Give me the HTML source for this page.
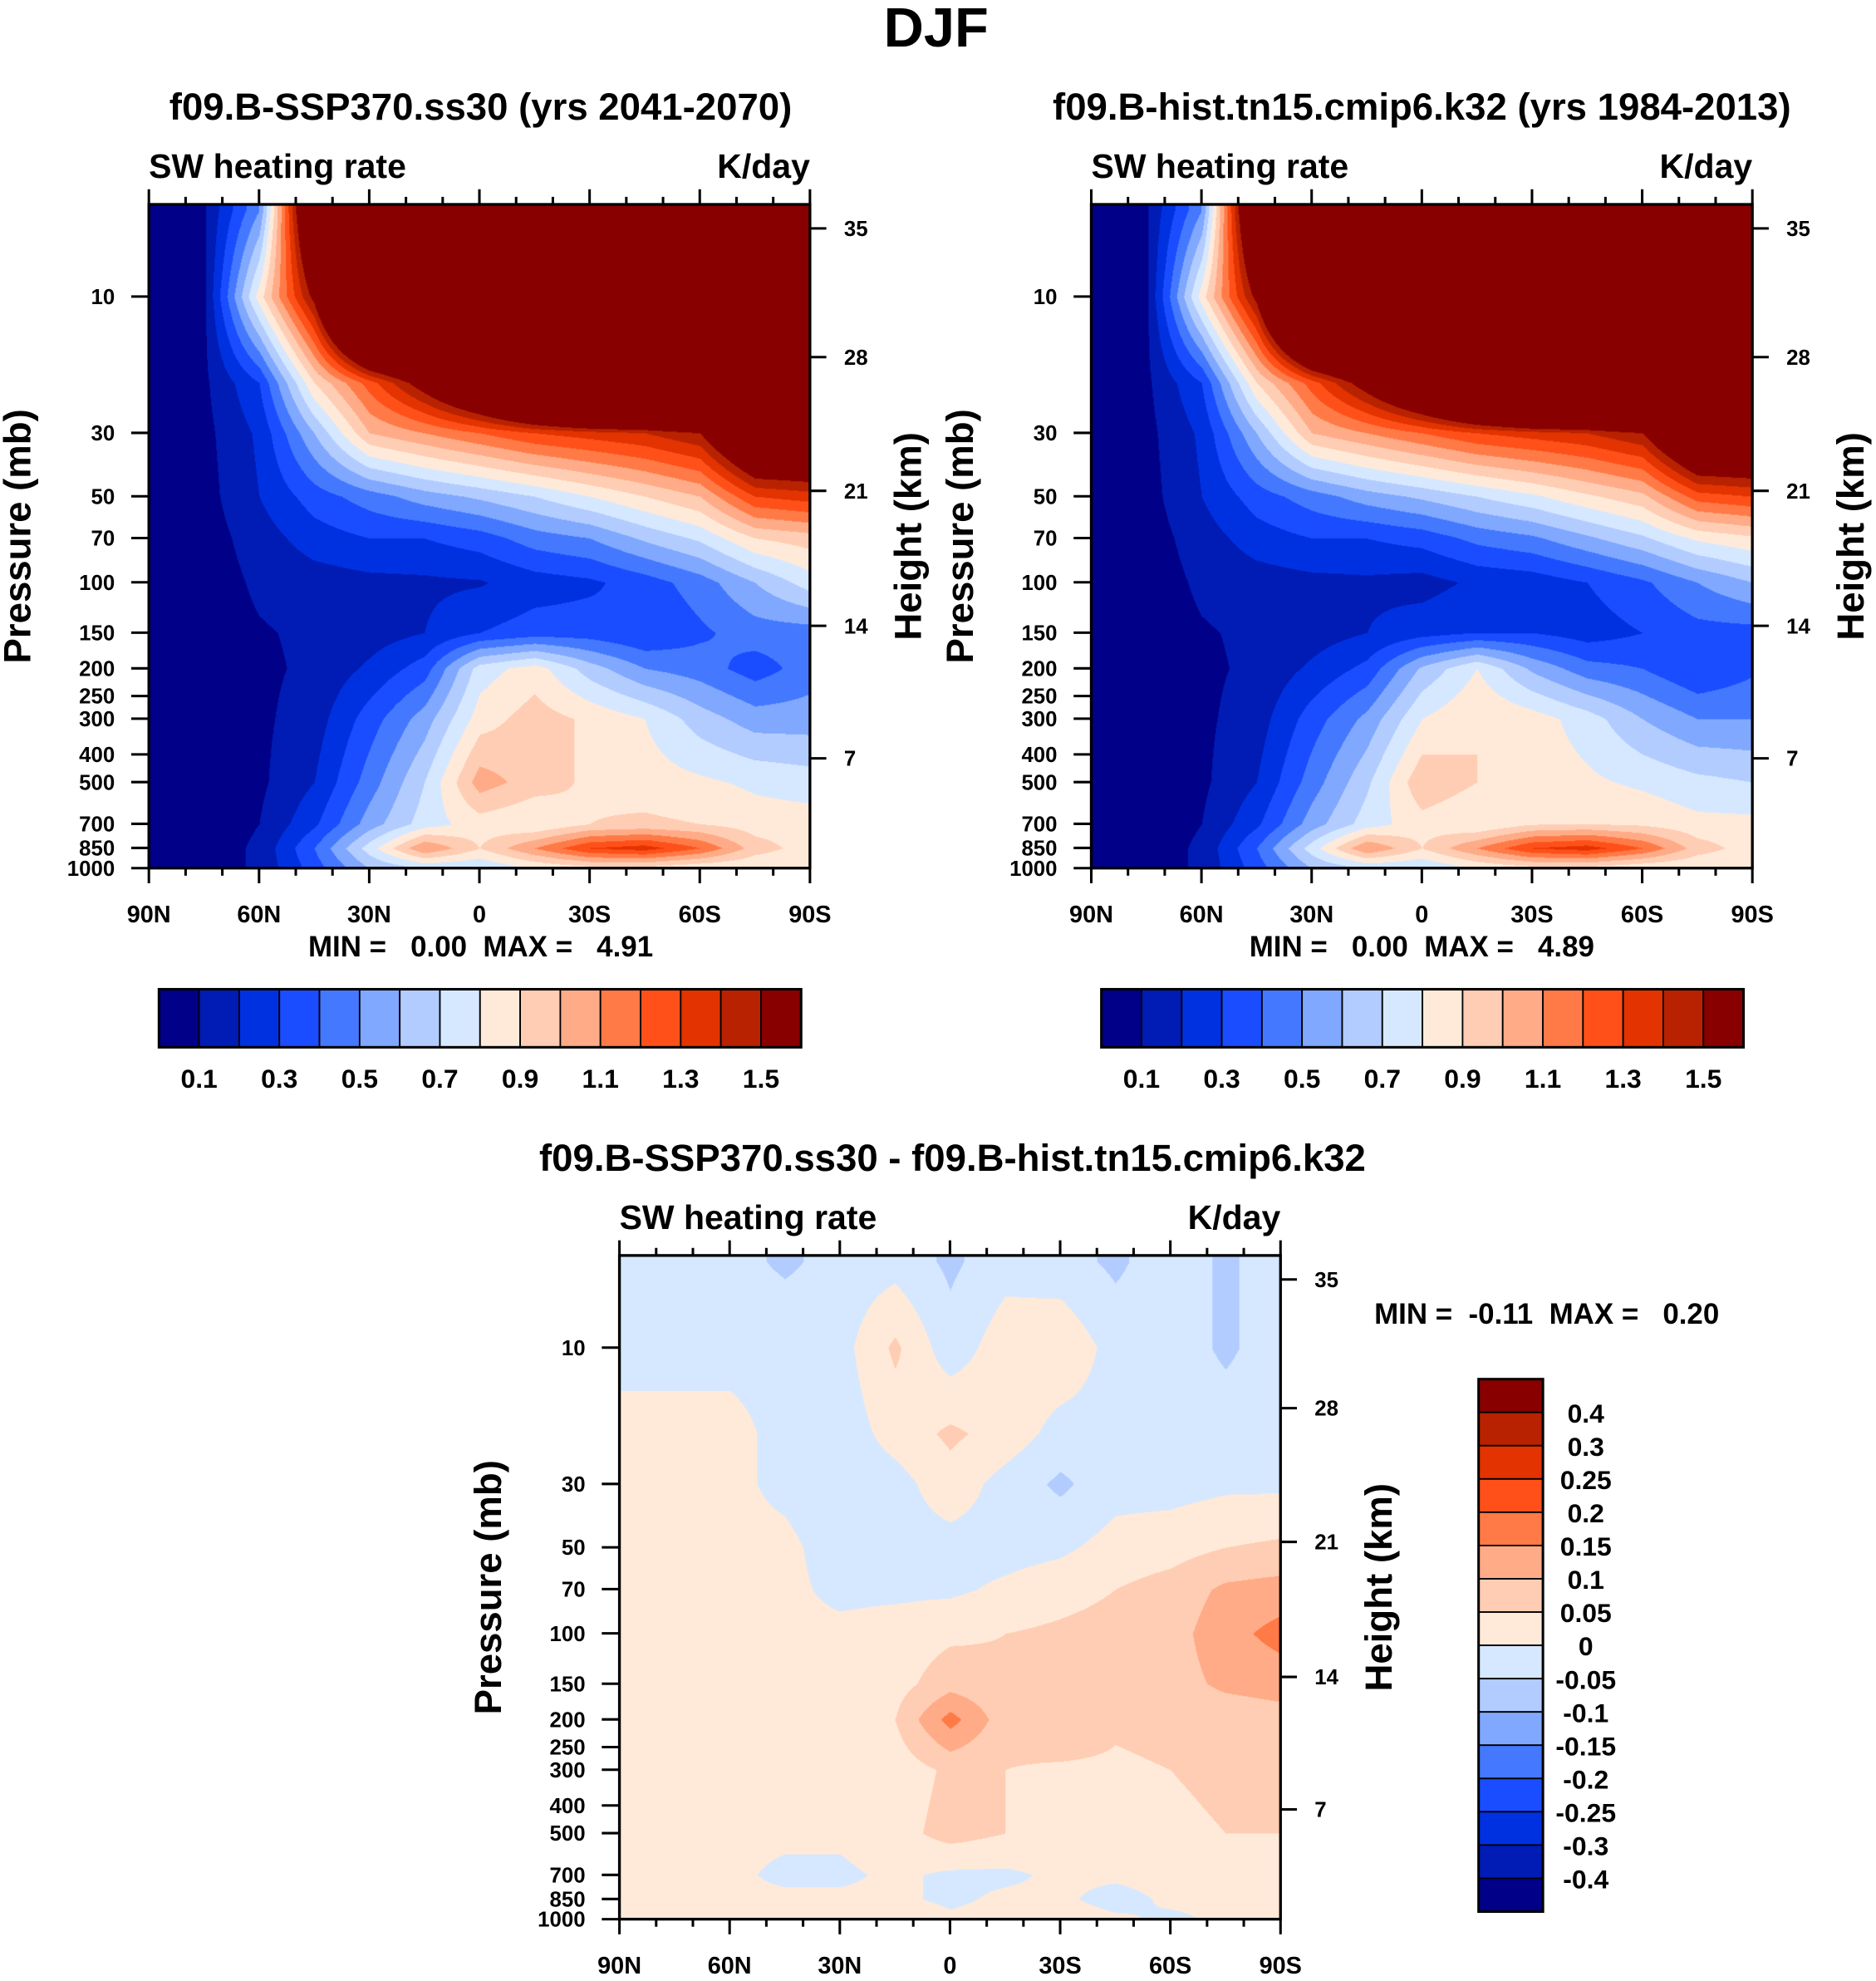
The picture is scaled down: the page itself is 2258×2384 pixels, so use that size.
<!DOCTYPE html>
<html><head><meta charset="utf-8">
<style>
html,body{margin:0;padding:0;background:#fff;width:2258px;height:2384px;overflow:hidden}
#root{position:absolute;left:0;top:0;width:1487px;height:1570px;transform:scale(1.51849,1.51847);transform-origin:0 0}
canvas{position:absolute}
svg{position:absolute;left:0;top:0}
text{font-family:"Liberation Sans",sans-serif;font-weight:bold;fill:#000;white-space:pre}
</style></head>
<body>
<div id="root">
<canvas id="c1" style="left:118px;top:162px;width:524px;height:526px" width="786" height="789"></canvas>
<canvas id="c2" style="left:865px;top:162px;width:524px;height:526px" width="786" height="789"></canvas>
<canvas id="c3" style="left:491px;top:995px;width:524px;height:526px" width="786" height="789"></canvas>
<svg id="ov" width="1487" height="1570" viewBox="0 0 1487 1570"></svg>
</div>
<script>
const colors=["#000088","#001cb4","#0031e1","#1a4dff","#4479ff","#80a8ff","#b3ccff","#d5e8ff","#ffeada","#ffcdb3","#ffab87","#ff7a46","#ff5019","#e23300","#b82200","#890000"];
const absLevels=[0.1,0.2,0.3,0.4,0.5,0.6,0.7,0.8,0.9,1.0,1.1,1.2,1.3,1.4,1.5];
const absLabels=["0.1","0.3","0.5","0.7","0.9","1.1","1.3","1.5"];
const diffLevels=[-0.4,-0.3,-0.25,-0.2,-0.15,-0.1,-0.05,0,0.05,0.1,0.15,0.2,0.25,0.3,0.4];
const diffLabels=["-0.4","-0.3","-0.25","-0.2","-0.15","-0.1","-0.05","0","0.05","0.1","0.15","0.2","0.25","0.3","0.4"];
const lats=[90,75,60,45,30,15,0,-15,-30,-45,-60,-75,-90];
const pres=[5,10,20,30,50,70,100,150,200,300,500,700,850,1000];
const latTicks=["90N","60N","30N","0","30S","60S","90S"];
const presTicks=[10,30,50,70,100,150,200,250,300,400,500,700,850,1000];
const hgtTicks=[7,14,21,28,35];
const hgtPix=[601,496,389,283,181];
const ssp=[
[0.03,0.09,0.5,2.0,3,3,3,3,3,3,3,3,3],
[0.03,0.08,0.85,1.55,3,3,3,3,3,3,3,3,3],
[0.03,0.08,0.3,0.9,1.25,1.6,2,2.5,3,3,3,3,3],
[0.03,0.07,0.22,0.6,1.0,1.1,1.2,1.3,1.35,1.4,1.5,2,2],
[0.03,0.06,0.2,0.35,0.45,0.55,0.62,0.7,0.8,0.9,1.0,1.3,1.35],
[0.03,0.05,0.15,0.25,0.3,0.3,0.35,0.45,0.5,0.62,0.72,0.9,0.95],
[0.03,0.04,0.12,0.15,0.17,0.18,0.19,0.25,0.28,0.35,0.45,0.6,0.75],
[0.03,0.04,0.09,0.12,0.15,0.2,0.3,0.35,0.35,0.3,0.38,0.45,0.45],
[0.03,0.04,0.08,0.12,0.22,0.35,0.75,0.85,0.65,0.5,0.45,0.35,0.45],
[0.03,0.04,0.08,0.15,0.35,0.55,0.85,0.95,0.88,0.8,0.65,0.55,0.55],
[0.03,0.04,0.08,0.2,0.45,0.7,1.05,0.95,0.88,0.85,0.82,0.78,0.75],
[0.03,0.04,0.1,0.28,0.55,0.75,0.85,0.8,0.9,0.92,0.9,0.85,0.85],
[0.03,0.04,0.12,0.4,0.75,1.1,0.9,1.1,1.3,1.35,1.2,0.95,0.85],
[0.03,0.04,0.12,0.35,0.6,0.7,0.7,0.8,0.85,0.85,0.8,0.8,0.8]];
const hist=[
[0.03,0.09,0.5,2.0,3,3,3,3,3,3,3,3,3],
[0.03,0.08,0.85,1.55,3,3,3,3,3,3,3,3,3],
[0.03,0.08,0.3,0.9,1.25,1.6,2,2.5,3,3,3,3,3],
[0.03,0.07,0.22,0.6,1.0,1.1,1.2,1.3,1.35,1.4,1.5,2,2],
[0.03,0.06,0.2,0.35,0.45,0.55,0.62,0.7,0.78,0.88,0.97,1.25,1.3],
[0.03,0.05,0.15,0.25,0.3,0.3,0.34,0.43,0.48,0.58,0.68,0.82,0.88],
[0.03,0.04,0.12,0.15,0.17,0.18,0.16,0.22,0.24,0.3,0.38,0.5,0.6],
[0.03,0.04,0.09,0.12,0.15,0.2,0.26,0.3,0.3,0.25,0.3,0.36,0.36],
[0.03,0.04,0.08,0.12,0.22,0.33,0.62,0.8,0.58,0.44,0.4,0.3,0.38],
[0.03,0.04,0.08,0.15,0.35,0.53,0.8,0.9,0.85,0.75,0.6,0.5,0.5],
[0.03,0.04,0.08,0.2,0.45,0.68,0.98,0.9,0.86,0.82,0.78,0.73,0.7],
[0.03,0.04,0.1,0.28,0.55,0.75,0.86,0.8,0.89,0.9,0.88,0.83,0.83],
[0.03,0.04,0.12,0.4,0.75,1.1,0.9,1.1,1.3,1.35,1.2,0.95,0.85],
[0.03,0.04,0.12,0.35,0.6,0.7,0.7,0.8,0.85,0.85,0.8,0.8,0.8]];
const diff=[
[-0.02,-0.02,-0.03,-0.06,-0.03,-0.02,-0.06,-0.02,-0.03,-0.06,-0.02,-0.06,-0.02],
[-0.01,-0.01,-0.01,-0.01,-0.02,0.06,-0.03,0.03,0.04,-0.02,-0.02,-0.06,-0.02],
[0.01,0.01,0.01,-0.01,-0.03,0.02,0.06,0.03,-0.02,-0.02,-0.02,-0.02,-0.02],
[0.01,0.01,0.01,-0.01,-0.03,-0.02,0.03,-0.02,-0.06,-0.02,-0.02,-0.01,-0.01],
[0.01,0.01,0.01,0.01,-0.02,-0.02,-0.02,-0.02,-0.01,0.02,0.03,0.05,0.06],
[0.01,0.01,0.01,0.01,-0.01,-0.01,-0.01,0.01,0.03,0.05,0.07,0.11,0.12],
[0.01,0.01,0.01,0.01,0.01,0.02,0.04,0.05,0.06,0.07,0.08,0.13,0.17],
[0.01,0.01,0.01,0.01,0.01,0.03,0.08,0.06,0.05,0.07,0.08,0.11,0.12],
[0.01,0.01,0.01,0.01,0.01,0.05,0.17,0.07,0.1,0.06,0.07,0.07,0.08],
[0.01,0.01,0.01,0.01,0.01,0.02,0.06,0.05,0.04,0.04,0.05,0.06,0.06],
[0.01,0.01,0.01,0.01,0.01,0.03,0.07,0.05,0.03,0.03,0.04,0.05,0.05],
[0.01,0.01,0.01,-0.01,-0.01,0.01,-0.01,-0.01,0.01,0.01,0.02,0.02,0.02],
[0.01,0.01,0.01,0.01,0.01,0.01,-0.01,0.01,0.01,-0.02,0.01,0.01,0.01],
[0.01,0.01,0.01,0.01,0.02,0.04,0.01,0.02,0.03,0.01,-0.01,0.01,0.01]];

const W=524,H=526,LTOP=1-73/226.5;
function lpY(p){return (Math.log10(p)-LTOP)*226.5;}
function latX(l){return (90-l)/180*W;}
function levelIndex(v,lv){let i=0;while(i<lv.length&&v>=lv[i])i++;return i;}
function hex(c){return [parseInt(c.slice(1,3),16),parseInt(c.slice(3,5),16),parseInt(c.slice(5,7),16)];}
const rgb=colors.map(hex);
function sample(g,lat,lp){
  const fx=(90-lat)/15; let i=Math.min(11,Math.max(0,Math.floor(fx))); const tx=Math.min(1,Math.max(0,fx-i));
  const lps=pres.map(p=>Math.log10(p));
  let j=0; while(j<pres.length-2&&lp>lps[j+1])j++;
  let ty=(lp-lps[j])/(lps[j+1]-lps[j]); ty=Math.min(1,Math.max(0,ty));
  const a=g[j][i]*(1-tx)+g[j][i+1]*tx, b=g[j+1][i]*(1-tx)+g[j+1][i+1]*tx;
  return a*(1-ty)+b*ty;
}
function drawField(id,g,lv){
  const cv=document.getElementById(id),ctx=cv.getContext('2d');
  const w=cv.width,h=cv.height,img=ctx.createImageData(w,h);
  for(let y=0;y<h;y++){const lp=LTOP+(y/h*H)/226.5;
    for(let x=0;x<w;x++){const lat=90-x/w*180;const v=sample(g,lat,lp);const c=rgb[levelIndex(v,lv)];
      const k=(y*w+x)*4;img.data[k]=c[0];img.data[k+1]=c[1];img.data[k+2]=c[2];img.data[k+3]=255;}}
  ctx.putImageData(img,0,0);
}
drawField('c1',ssp,absLevels);drawField('c2',hist,absLevels);drawField('c3',diff,diffLevels);

const NS="http://www.w3.org/2000/svg",sv=document.getElementById('ov');
function el(t,a,txt){const e=document.createElementNS(NS,t);for(const k in a)e.setAttribute(k,a[k]);if(txt!==undefined)e.textContent=txt;sv.appendChild(e);return e;}
function T(x,y,s,txt,anchor,name){const e=el('text',{x:x,y:y,'font-size':s,'text-anchor':anchor||'middle'},txt);
  
  return e;}
function axes(x0,y0){
  el('rect',{x:x0,y:y0,width:W,height:H,fill:'none',stroke:'#000','stroke-width':2.2});
  for(let l=90;l>=-90;l-=10){const x=x0+latX(l),maj=(l%30===0);const L=maj?12:6;
    el('line',{x1:x,y1:y0,x2:x,y2:y0-L,stroke:'#000','stroke-width':2});
    el('line',{x1:x,y1:y0+H,x2:x,y2:y0+H+L,stroke:'#000','stroke-width':2});}
  latTicks.forEach((t,i)=>T(x0+i*W/6,y0+H+43,19,t,'middle','x-tick-label'));
  presTicks.forEach(p=>{const y=y0+lpY(p);el('line',{x1:x0-14,y1:y,x2:x0,y2:y,stroke:'#000','stroke-width':2});
    T(x0-27,y+6,17,String(p),'end','y-tick-label');});
  hgtTicks.forEach((hh,i)=>{const y=y0+hgtPix[i]-162;el('line',{x1:x0+W,y1:y,x2:x0+W+13,y2:y,stroke:'#000','stroke-width':2});
    T(x0+W+27,y+6,17,String(hh),'start','height-tick-label');});
  T(x0,y0-21,27,'SW heating rate','start','variable-label');
  T(x0+W,y0-21,27,'K/day','end','units-label');
  let e=T(0,0,30,'Pressure (mb)','middle','y-axis-title');e.setAttribute('transform',`translate(${x0-94},${y0+263}) rotate(-90)`);
  e=T(0,0,30,'Height (km)','middle','right-axis-title');e.setAttribute('transform',`translate(${x0+W+88},${y0+263}) rotate(-90)`);
}
T(742,37,44,'DJF','middle','figure-title');
T(381,95,30,'f09.B-SSP370.ss30 (yrs 2041-2070)','middle','panel1-title');
T(1127,95,30,'f09.B-hist.tn15.cmip6.k32 (yrs 1984-2013)','middle','panel2-title');
T(755,928,30,'f09.B-SSP370.ss30 - f09.B-hist.tn15.cmip6.k32','middle','diff-title');
axes(118,162);axes(865,162);axes(491,995);
T(381,758,23,'MIN =   0.00  MAX =   4.91','middle','panel1-minmax');
T(1127,758,23,'MIN =   0.00  MAX =   4.89','middle','panel2-minmax');
T(1226,1049,23,'MIN =  -0.11  MAX =   0.20','middle','diff-minmax');
function hbar(x0,name){const bw=(635-126)/16;
  colors.forEach((c,i)=>{const r=el('rect',{x:x0+i*bw,y:784,width:bw,height:46,fill:c,stroke:'#000','stroke-width':1.2});
    
    });
  el('rect',{x:x0,y:784,width:bw*16,height:46,fill:'none',stroke:'#000','stroke-width':2});
  absLabels.forEach((t,i)=>T(x0+bw*(1+2*i),862,21,t,'middle',name+'-label'));}
hbar(126,'colorbar1');hbar(873,'colorbar2');
(function(){const y0=1093,bh=(1515-1093)/16;
  for(let i=0;i<16;i++){const r=el('rect',{x:1172,y:y0+i*bh,width:51,height:bh,fill:colors[15-i],stroke:'#000','stroke-width':1.2});
    
    }
  el('rect',{x:1172,y:y0,width:51,height:bh*16,fill:'none',stroke:'#000','stroke-width':2});
  for(let i=0;i<15;i++){T(1257,y0+bh*(i+1)+8,21,diffLabels[14-i],'middle','diff-colorbar-label');}
})();
</script>
</body></html>
